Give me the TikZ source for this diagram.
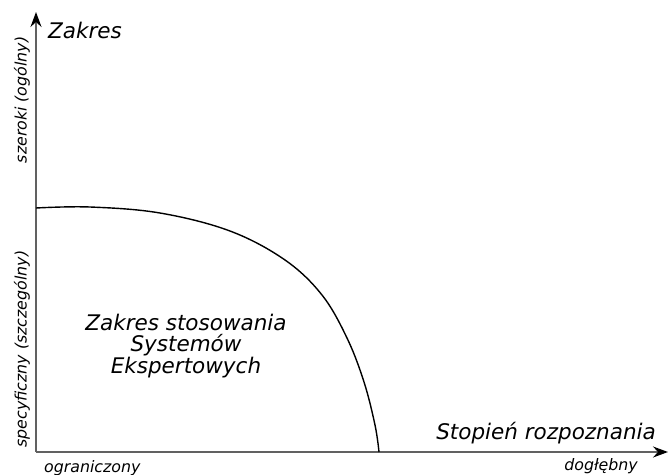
\documentclass[tikz,border=0pt]{standalone}
\usepackage{fontspec}
\setmainfont{DejaVu Sans}
\usetikzlibrary{arrows.meta}
\tikzset{
  axis/.style={draw=black!62, line width=1.8pt, -{Stealth[length=15pt,width=11pt,inset=5pt,fill=black,color=black]}},
  big/.style={font=\fontsize{21.5}{25}\selectfont\itshape, inner sep=0pt},
  small/.style={font=\fontsize{15.8}{18}\selectfont\itshape, inner sep=0pt},
  curve/.style={draw=black, line width=1.4pt}
}
\begin{document}
\begin{tikzpicture}[x=1pt,y=-1pt]
\useasboundingbox (0,0) rectangle (668,474);
\coordinate (O) at (36,452);
\coordinate (ytip) at (36,12);
\coordinate (xtip) at (668,452);
\draw[axis] (O) -- (ytip);
\draw[axis] (O) -- (xtip);
\draw[curve] plot[smooth, tension=0.6] coordinates {(36,208) (90,207) (160,213) (230,231) (285,260) (322,295) (347,338) (364,382) (375,425) (379,452)};
\node[big, anchor=west] (zakres) at (48,30) {Zakres};
\node[big, anchor=east] (stopien) at (656,433) {Stopień rozpoznania};
\node[small, anchor=east] (dogl) at (638,466) {dogłębny};
\node[small, anchor=west] (ogr) at (44,468) {ograniczony};
\node[small, rotate=90] (szer) at (22,100) {szeroki (ogólny)};
\node[small, rotate=90] (spec) at (22,349) {specyficzny (szczególny)};
\node[big, align=center, font=\fontsize{21.5}{21.5}\selectfont\itshape] (mid) at (186,346) {Zakres stosowania\\Systemów\\Ekspertowych};
\end{tikzpicture}
\end{document}
